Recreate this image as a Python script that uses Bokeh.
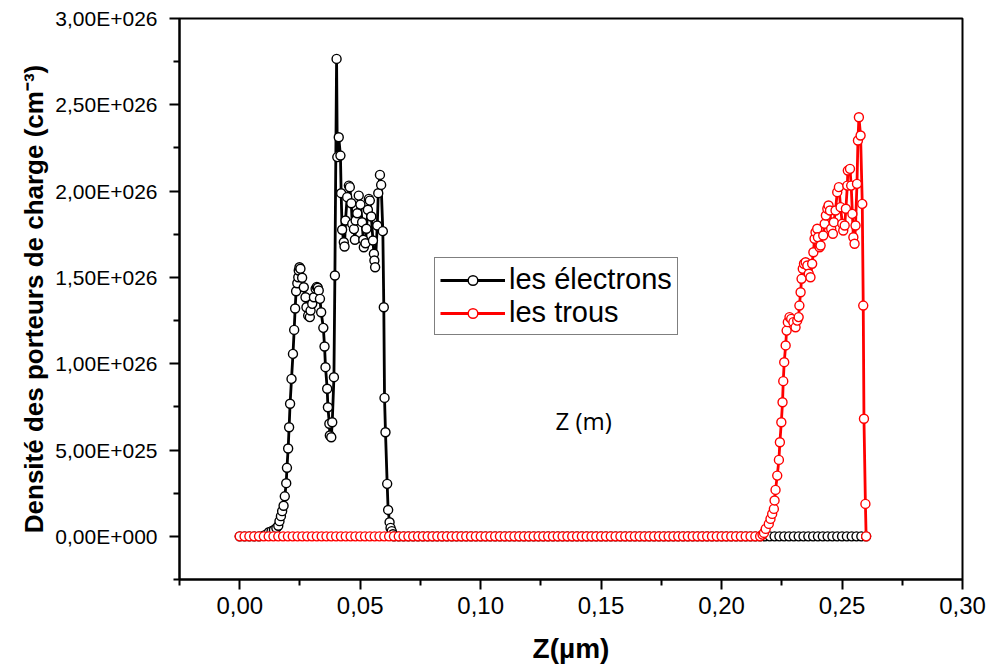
from bokeh.plotting import figure
from bokeh.models import (ColumnDataSource, FixedTicker, Legend, LegendItem,
                          Label, Range1d)
from bokeh.embed import file_html
from bokeh.resources import INLINE

# ---------------- data (Z in µm, density in units of 1E+026 cm^-3) ----------------
EL_Z_HEAD = [0.000, 0.002, 0.004, 0.006, 0.008]
EL_N_HEAD = [0.0, 0.0, 0.0, 0.0, 0.0]

EL_Z_PEAKS = [
    0.0100, 0.0110, 0.0121, 0.0132, 0.0142, 0.0152, 0.0160, 0.0165, 0.0171, 0.0176,
    0.0182, 0.0187, 0.0193, 0.0196, 0.0201, 0.0205, 0.0209, 0.0215, 0.0221, 0.0226,
    0.0230, 0.0234, 0.0239, 0.0243, 0.0245, 0.0248, 0.0252, 0.0259, 0.0266, 0.0273,
    0.0277, 0.0284, 0.0291, 0.0294, 0.0301, 0.0308, 0.0315, 0.0320, 0.0324, 0.0328,
    0.0333, 0.0338, 0.0347, 0.0352, 0.0356, 0.0363, 0.0366, 0.0372, 0.0374, 0.0380,
    0.0384, 0.0391, 0.0395, 0.0402, 0.0405, 0.0411, 0.0418, 0.0421, 0.0425, 0.0432,
    0.0435, 0.0439, 0.0446, 0.0453, 0.0457, 0.0463, 0.0467, 0.0474, 0.0478, 0.0481,
    0.0488, 0.0494, 0.0501, 0.0508, 0.0513, 0.0515, 0.0522, 0.0526, 0.0532, 0.0536,
    0.0540, 0.0546, 0.0553, 0.0557, 0.0559, 0.0562, 0.0571, 0.0575, 0.0582, 0.0587,
    0.0594, 0.0598, 0.0601, 0.0605, 0.0612, 0.0616, 0.0622, 0.0626, 0.0631, 0.0636,
]
EL_N_PEAKS = [
    0.004, 0.010, 0.024, 0.030, 0.037, 0.048, 0.061, 0.088, 0.117, 0.146,
    0.177, 0.232, 0.308, 0.397, 0.509, 0.632, 0.768, 0.912, 1.057, 1.196,
    1.320, 1.420, 1.466, 1.501, 1.540, 1.559, 1.550, 1.498, 1.443, 1.385,
    1.327, 1.279, 1.270, 1.308, 1.347, 1.385, 1.434, 1.445, 1.440, 1.424,
    1.376, 1.298, 1.208, 1.100, 0.980, 0.855, 0.748, 0.652, 0.584, 0.574,
    0.661, 0.922, 1.511, 2.766, 2.197, 2.312, 2.206, 1.988, 1.776, 1.704,
    1.679, 1.830, 1.965, 2.032, 2.023, 1.930, 1.810, 1.780, 1.718, 1.830,
    1.872, 1.974, 1.922, 1.820, 1.718, 1.675, 1.698, 1.782, 1.892, 1.955,
    1.945, 1.853, 1.714, 1.637, 1.598, 1.559, 1.801, 1.988, 2.094, 2.036,
    1.768, 1.327, 0.802, 0.603, 0.304, 0.153, 0.082, 0.049, 0.030, 0.012,
]

EL_Z_TAIL = [
    0.064, 0.066, 0.068, 0.070, 0.072, 0.074, 0.076, 0.078, 0.080, 0.082,
    0.084, 0.086, 0.088, 0.090, 0.092, 0.094, 0.096, 0.098, 0.100, 0.102,
    0.104, 0.106, 0.108, 0.110, 0.112, 0.114, 0.116, 0.118, 0.120, 0.122,
    0.124, 0.126, 0.128, 0.130, 0.132, 0.134, 0.136, 0.138, 0.140, 0.142,
    0.144, 0.146, 0.148, 0.150, 0.152, 0.154, 0.156, 0.158, 0.160, 0.162,
    0.164, 0.166, 0.168, 0.170, 0.172, 0.174, 0.176, 0.178, 0.180, 0.182,
    0.184, 0.186, 0.188, 0.190, 0.192, 0.194, 0.196, 0.198, 0.200, 0.202,
    0.204, 0.206, 0.208, 0.210, 0.212, 0.214, 0.216, 0.218, 0.220, 0.222,
    0.224, 0.226, 0.228, 0.230, 0.232, 0.234, 0.236, 0.238, 0.240, 0.242,
    0.244, 0.246, 0.248, 0.250, 0.252, 0.254, 0.256, 0.258, 0.260,
]
EL_N_TAIL = [
    0.0, 0.0, 0.0, 0.0, 0.0, 0.0, 0.0, 0.0, 0.0, 0.0,
    0.0, 0.0, 0.0, 0.0, 0.0, 0.0, 0.0, 0.0, 0.0, 0.0,
    0.0, 0.0, 0.0, 0.0, 0.0, 0.0, 0.0, 0.0, 0.0, 0.0,
    0.0, 0.0, 0.0, 0.0, 0.0, 0.0, 0.0, 0.0, 0.0, 0.0,
    0.0, 0.0, 0.0, 0.0, 0.0, 0.0, 0.0, 0.0, 0.0, 0.0,
    0.0, 0.0, 0.0, 0.0, 0.0, 0.0, 0.0, 0.0, 0.0, 0.0,
    0.0, 0.0, 0.0, 0.0, 0.0, 0.0, 0.0, 0.0, 0.0, 0.0,
    0.0, 0.0, 0.0, 0.0, 0.0, 0.0, 0.0, 0.0, 0.0, 0.0,
    0.0, 0.0, 0.0, 0.0, 0.0, 0.0, 0.0, 0.0, 0.0, 0.0,
    0.0, 0.0, 0.0, 0.0, 0.0, 0.0, 0.0, 0.0, 0.0,
]

HO_Z_BASE = [
    0.000, 0.002, 0.004, 0.006, 0.008, 0.010, 0.012, 0.014, 0.016, 0.018,
    0.020, 0.022, 0.024, 0.026, 0.028, 0.030, 0.032, 0.034, 0.036, 0.038,
    0.040, 0.042, 0.044, 0.046, 0.048, 0.050, 0.052, 0.054, 0.056, 0.058,
    0.060, 0.062, 0.064, 0.066, 0.068, 0.070, 0.072, 0.074, 0.076, 0.078,
    0.080, 0.082, 0.084, 0.086, 0.088, 0.090, 0.092, 0.094, 0.096, 0.098,
    0.100, 0.102, 0.104, 0.106, 0.108, 0.110, 0.112, 0.114, 0.116, 0.118,
    0.120, 0.122, 0.124, 0.126, 0.128, 0.130, 0.132, 0.134, 0.136, 0.138,
    0.140, 0.142, 0.144, 0.146, 0.148, 0.150, 0.152, 0.154, 0.156, 0.158,
    0.160, 0.162, 0.164, 0.166, 0.168, 0.170, 0.172, 0.174, 0.176, 0.178,
    0.180, 0.182, 0.184, 0.186, 0.188, 0.190, 0.192, 0.194, 0.196, 0.198,
    0.200, 0.202, 0.204, 0.206, 0.208, 0.210, 0.212, 0.214, 0.216,
]
HO_N_BASE = [
    0.0, 0.0, 0.0, 0.0, 0.0, 0.0, 0.0, 0.0, 0.0, 0.0,
    0.0, 0.0, 0.0, 0.0, 0.0, 0.0, 0.0, 0.0, 0.0, 0.0,
    0.0, 0.0, 0.0, 0.0, 0.0, 0.0, 0.0, 0.0, 0.0, 0.0,
    0.0, 0.0, 0.0, 0.0, 0.0, 0.0, 0.0, 0.0, 0.0, 0.0,
    0.0, 0.0, 0.0, 0.0, 0.0, 0.0, 0.0, 0.0, 0.0, 0.0,
    0.0, 0.0, 0.0, 0.0, 0.0, 0.0, 0.0, 0.0, 0.0, 0.0,
    0.0, 0.0, 0.0, 0.0, 0.0, 0.0, 0.0, 0.0, 0.0, 0.0,
    0.0, 0.0, 0.0, 0.0, 0.0, 0.0, 0.0, 0.0, 0.0, 0.0,
    0.0, 0.0, 0.0, 0.0, 0.0, 0.0, 0.0, 0.0, 0.0, 0.0,
    0.0, 0.0, 0.0, 0.0, 0.0, 0.0, 0.0, 0.0, 0.0, 0.0,
    0.0, 0.0, 0.0, 0.0, 0.0, 0.0, 0.0, 0.0, 0.0,
]

HO_Z_PEAK = [
    0.2170, 0.2176, 0.2183, 0.2196, 0.2203, 0.2210, 0.2217, 0.2220, 0.2224, 0.2231,
    0.2238, 0.2242, 0.2248, 0.2253, 0.2256, 0.2260, 0.2266, 0.2270, 0.2275, 0.2282,
    0.2289, 0.2298, 0.2307, 0.2314, 0.2320, 0.2323, 0.2328, 0.2332, 0.2337, 0.2342,
    0.2349, 0.2356, 0.2362, 0.2369, 0.2376, 0.2381, 0.2386, 0.2390, 0.2397, 0.2400,
    0.2407, 0.2411, 0.2422, 0.2428, 0.2433, 0.2439, 0.2444, 0.2450, 0.2455, 0.2462,
    0.2466, 0.2473, 0.2480, 0.2487, 0.2494, 0.2501, 0.2505, 0.2511, 0.2516, 0.2522,
    0.2524, 0.2533, 0.2538, 0.2543, 0.2547, 0.2552, 0.2556, 0.2562, 0.2566, 0.2570,
    0.2577, 0.2584, 0.2588, 0.2591, 0.2597, 0.2600,
]
HO_N_PEAK = [
    0.010, 0.020, 0.043, 0.072, 0.101, 0.130, 0.159, 0.208, 0.269, 0.352,
    0.443, 0.545, 0.661, 0.777, 0.899, 1.009, 1.106, 1.192, 1.241, 1.270,
    1.260, 1.241, 1.211, 1.250, 1.270, 1.337, 1.414, 1.492, 1.550, 1.579,
    1.588, 1.569, 1.521, 1.501, 1.579, 1.646, 1.724, 1.762, 1.782, 1.733,
    1.675, 1.685, 1.743, 1.811, 1.859, 1.898, 1.917, 1.888, 1.782, 1.753,
    1.820, 1.888, 1.994, 2.023, 1.907, 1.811, 1.772, 1.801, 1.898, 2.032,
    2.119, 2.129, 2.032, 1.868, 1.733, 1.695, 1.801, 2.042, 2.293, 2.428,
    2.322, 1.926, 1.337, 0.681, 0.188, 0.000,
]

X_TICKS = [0, 0.05, 0.1, 0.15, 0.2, 0.25, 0.3]
X_TICK_LABELS = ["0,00", "0,05", "0,10", "0,15", "0,20", "0,25", "0,30"]
X_MINOR = [-0.025, 0.025, 0.075, 0.125, 0.175, 0.225, 0.275]
Y_TICKS = [0, 0.5, 1, 1.5, 2, 2.5, 3]
Y_TICK_LABELS = ["0,00E+000", "5,00E+025", "1,00E+026", "1,50E+026",
                 "2,00E+026", "2,50E+026", "3,00E+026"]
Y_MINOR = [-0.25, 0.25, 0.75, 1.25, 1.75, 2.25, 2.75]

EL_Z = EL_Z_HEAD + EL_Z_PEAKS + EL_Z_TAIL
EL_N = EL_N_HEAD + EL_N_PEAKS + EL_N_TAIL
HO_Z = HO_Z_BASE + HO_Z_PEAK
HO_N = HO_N_BASE + HO_N_PEAK
assert len(EL_Z) == len(EL_N) and len(HO_Z) == len(HO_N)

# ---------------- figure ----------------
p = figure(width=989, height=671, output_backend="svg", toolbar_location=None,
           x_range=Range1d(-0.025, 0.30), y_range=Range1d(-0.25, 3.0),
           min_border_left=179, min_border_right=27, min_border_top=18,
           min_border_bottom=92)
p.grid.visible = False
p.outline_line_color = "black"
p.outline_line_width = 2
p.background_fill_color = "white"
p.border_fill_color = "white"

el_src = ColumnDataSource(dict(z=EL_Z, n=EL_N))
ho_src = ColumnDataSource(dict(z=HO_Z, n=HO_N))

el_line = p.line("z", "n", source=el_src, line_color="black", line_width=2.8)
el_pts = p.scatter("z", "n", source=el_src, marker="circle", size=9,
                   fill_color="white", line_color="black", line_width=1.4)
ho_line = p.line("z", "n", source=ho_src, line_color="#ff0000", line_width=2.8)
ho_pts = p.scatter("z", "n", source=ho_src, marker="circle", size=9,
                   fill_color="white", line_color="#ff0000", line_width=1.4)

# axes
xa = p.xaxis[0]
ya = p.yaxis[0]
xa.ticker = FixedTicker(ticks=X_TICKS, minor_ticks=X_MINOR)
ya.ticker = FixedTicker(ticks=Y_TICKS, minor_ticks=Y_MINOR)
xa.major_label_overrides = dict(zip(X_TICKS, X_TICK_LABELS))
ya.major_label_overrides = dict(zip(Y_TICKS, Y_TICK_LABELS))
for ax in (xa, ya):
    ax.axis_line_width = 2
    ax.axis_line_color = "black"
    ax.major_tick_line_width = 2
    ax.minor_tick_line_width = 2
    ax.major_tick_line_color = "black"
    ax.minor_tick_line_color = "black"
    ax.major_tick_out = 10
    ax.major_tick_in = 0
    ax.minor_tick_out = 6
    ax.minor_tick_in = 0
    ax.major_label_text_color = "black"
    ax.axis_label_text_color = "black"
    ax.axis_label_text_font_style = "bold"

xa.major_label_text_font = "Liberation Sans Narrow, Liberation Sans"
xa.major_label_text_font_size = "24px"
xa.major_label_standoff = 7
xa.axis_label = "Z(µm)"
xa.axis_label_text_font = "Liberation Sans Narrow, Liberation Sans"
xa.axis_label_text_font_size = "28px"
xa.axis_label_standoff = 16

ya.major_label_text_font = "Liberation Sans"
ya.major_label_text_font_size = "21px"
ya.major_label_standoff = 12
ya.axis_label = "Densité des porteurs de charge (cm⁻³)"
ya.axis_label_text_font = "Liberation Sans"
ya.axis_label_text_font_size = "26px"
ya.axis_label_standoff = 3

# legend
legend = Legend(items=[
    LegendItem(label="les électrons", renderers=[el_line, el_pts]),
    LegendItem(label="les trous", renderers=[ho_line, ho_pts]),
], location=(255, 244))
legend.border_line_color = "black"
legend.border_line_width = 1
legend.background_fill_color = "white"
legend.background_fill_alpha = 1
legend.label_text_font = "Liberation Sans"
legend.label_text_font_size = "29px"
legend.label_text_color = "black"
legend.glyph_width = 65
legend.glyph_height = 24
legend.label_standoff = 4
legend.padding = 5
legend.spacing = 0
legend.margin = 0
p.add_layout(legend, "center")

# stray annotation inside the plot
note = Label(x=376, y=159, x_units="screen", y_units="screen", text="Z (m)",
             text_font="Open Sans", text_font_size="24px",
             text_baseline="middle", text_color="black")
p.add_layout(note)

open("out.html", "w").write(file_html(p, INLINE))
